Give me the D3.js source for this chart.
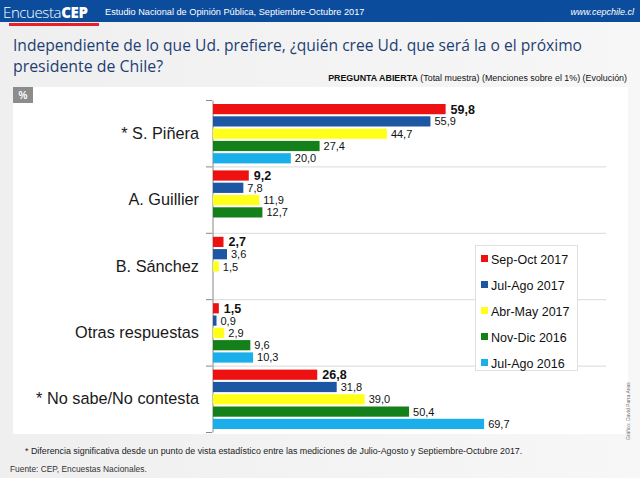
<!DOCTYPE html>
<html><head><meta charset="utf-8">
<script src="https://cdn.jsdelivr.net/npm/d3@7"></script>
<style>body{margin:0;background:#f4f4f4;}svg{display:block;}</style>
</head><body>
<script>
const categories = ["* S. Piñera","A. Guillier","B. Sánchez","Otras respuestas","* No sabe/No contesta"];
const seriesNames = ["Sep-Oct 2017","Jul-Ago 2017","Abr-May 2017","Nov-Dic 2016","Jul-Ago 2016"];
const sepOct2017 = [59.8, 9.2, 2.7, 1.5, 26.8];
const julAgo2017 = [55.9, 7.8, 3.6, 0.9, 31.8];
const abrMay2017 = [44.7, 11.9, 1.5, 2.9, 39.0];
const novDic2016 = [27.4, 12.7, null, 9.6, 50.4];
const julAgo2016 = [20.0, null, null, 10.3, 69.7];
const seriesValues = [sepOct2017, julAgo2017, abrMay2017, novDic2016, julAgo2016];
const colors = ["#ee1111","#1d56a3","#ffff1a","#14801a","#1aaeea"];

const W=640,H=478;
const svg=d3.select("body").append("svg").attr("width",W).attr("height",H);
const defs=svg.append("defs");
const g1=defs.append("linearGradient").attr("id","bg").attr("x1",0).attr("x2",1);
g1.append("stop").attr("offset",0).attr("stop-color","#efefef");
g1.append("stop").attr("offset",1).attr("stop-color","#f7f7f7");
svg.append("rect").attr("width",W).attr("height",H).attr("fill","url(#bg)");
// panel
svg.append("rect").attr("x",13).attr("y",87).attr("width",615).attr("height",347).attr("fill","#ffffff");

// header
svg.append("rect").attr("x",0).attr("y",0).attr("width",W).attr("height",22).attr("fill","#0b4c9c");
svg.append("rect").attr("x",9).attr("y",23).attr("width",90).attr("height",3).attr("fill","#e5202a");
const ht=svg.append("text").attr("x",3).attr("y",18).attr("fill","#fff").style("font-family","Open Sans, Liberation Sans").style("font-size","15px");
ht.append("tspan").text("Encuesta").style("font-weight","300").attr("letter-spacing","-0.4");
ht.append("tspan").text("CEP").style("font-weight","800").attr("letter-spacing","-0.3");
svg.append("text").attr("x",105).attr("y",15).attr("fill","#fff").style("font-family","Liberation Sans, Arial").style("font-size","9.2px").text("Estudio Nacional de Opinión Pública, Septiembre-Octubre 2017");
svg.append("text").attr("x",634).attr("y",15).attr("text-anchor","end").attr("fill","#fff").style("font-family","Liberation Sans, Arial").style("font-size","9px").style("font-style","italic").text("www.cepchile.cl");

// title
const title=svg.append("g").style("font-family","Open Sans").style("font-size","15.5px").attr("fill","#1e3f73");
title.append("text").attr("x",13).attr("y",51).attr("textLength",569).attr("lengthAdjust","spacingAndGlyphs")
  .text("Independiente de lo que Ud. prefiere, ¿quién cree Ud. que será la o el próximo");
title.append("text").attr("x",13).attr("y",72).attr("textLength",150).attr("lengthAdjust","spacingAndGlyphs").text("presidente de Chile?");
const sub=svg.append("text").attr("x",627).attr("y",81).attr("text-anchor","end").style("font-family","Liberation Sans, Arial").style("font-size","8.9px").attr("fill","#111");
sub.append("tspan").text("PREGUNTA ABIERTA").style("font-weight","bold");
sub.append("tspan").text(" (Total muestra) (Menciones sobre el 1%) (Evolución)");

// % box
svg.append("rect").attr("x",13).attr("y",87).attr("width",20).attr("height",16).attr("fill","#8c8c8c");
svg.append("text").attr("x",23).attr("y",99).attr("text-anchor","middle").attr("fill","#fff").style("font-family","Liberation Sans, Arial").style("font-weight","bold").style("font-size","10px").text("%");

// scales
const y=d3.scaleBand().domain(categories).range([100,432]).paddingInner(0).paddingOuter(0);
const ySub=d3.scaleBand().domain(seriesNames).range([4,y.bandwidth()-3]).paddingInner(0.17).paddingOuter(0);
const x=d3.scaleLinear().domain([0,100]).range([212,601]);

// gridlines (separators)
const seps=[100].concat(categories.map(c=>y(c)+y.bandwidth()));
svg.append("g").selectAll("line").data(seps.slice(1,-1)).join("line")
  .attr("x1",212).attr("x2",606).attr("y1",d=>d+0.5).attr("y2",d=>d+0.5).attr("stroke","#d9d9d9");

// axis
const axis=d3.axisLeft(y).tickSize(0).tickFormat("");
const ag=svg.append("g").attr("transform","translate(212.5,0)").call(axis);
ag.select(".domain").attr("stroke","#888");
svg.append("g").selectAll("line").data(seps).join("line")
  .attr("x1",206).attr("x2",212).attr("y1",d=>d+0.5).attr("y2",d=>d+0.5).attr("stroke","#888");

// category labels
svg.append("g").selectAll("text").data(categories).join("text")
  .attr("x",199).attr("y",c=>y(c)+y.bandwidth()/2+5.5).attr("text-anchor","end")
  .style("font-family","Liberation Sans, Arial").style("font-size","16.3px").attr("fill","#1a1a1a").text(c=>c);

// bars
const fmt=v=>d3.format(".1f")(v).replace(".",",");
seriesNames.forEach((s,si)=>{
  const data=categories.map((c,ci)=>({c,v:seriesValues[si][ci]})).filter(d=>d.v!=null);
  const g=svg.append("g");
  g.selectAll("rect").data(data).join("rect")
    .attr("x",x(0)+1).attr("y",d=>y(d.c)+ySub(s)).attr("width",d=>x(d.v)-x(0)).attr("height",ySub.bandwidth())
    .attr("fill",colors[si]);
  g.selectAll("text").data(data).join("text")
    .attr("x",d=>x(d.v)+(si===0?6:5)).attr("y",d=>y(d.c)+ySub(s)+ySub.bandwidth()/2+(si===0?4.5:4))
    .style("font-family","Liberation Sans, Arial").style("font-size",si===0?"12.5px":"11px")
    .style("font-weight",si===0?"bold":"normal").attr("fill","#111").text(d=>fmt(d.v));
});

// legend
const lg=svg.append("g");
lg.append("rect").attr("x",475.5).attr("y",245.5).attr("width",102).attr("height",125).attr("fill","#fff").attr("stroke","#e0e0e0");
const ly=d3.scalePoint().domain(seriesNames).range([259,363]);
lg.selectAll("rect.k").data(seriesNames).join("rect").attr("class","k")
  .attr("x",481).attr("y",s=>ly(s)-4).attr("width",7).attr("height",7).attr("fill",(s,i)=>colors[i]);
lg.selectAll("text").data(seriesNames).join("text")
  .attr("x",491).attr("y",s=>ly(s)+4.5).style("font-family","Liberation Sans, Arial").style("font-size","12.5px").attr("fill","#111").text(s=>s);

// footnotes
svg.append("text").attr("x",25).attr("y",454).style("font-family","Liberation Sans, Arial").style("font-size","8.9px").attr("fill","#222")
  .text("* Diferencia significativa desde un punto de vista estadístico entre las mediciones de Julio-Agosto y Septiembre-Octubre 2017.");
svg.append("text").attr("x",10).attr("y",472).style("font-family","Liberation Sans, Arial").style("font-size","8.4px").attr("fill","#333")
  .text("Fuente: CEP, Encuestas Nacionales.");
svg.append("text").attr("transform","translate(630,440) rotate(-90)").style("font-family","Liberation Sans, Arial").style("font-size","5px").attr("fill","#777")
  .text("Gráfico: David Parra Arias");
</script>
</body></html>
